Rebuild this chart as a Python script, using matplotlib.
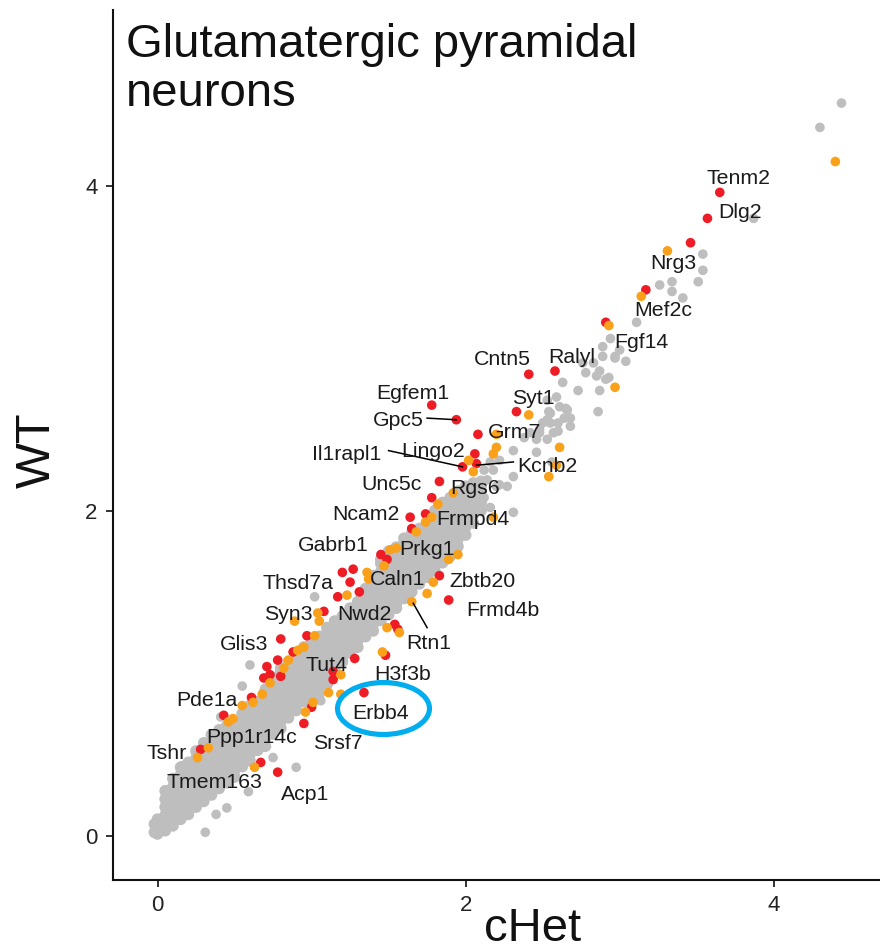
import matplotlib
matplotlib.use("Agg")
import matplotlib.pyplot as plt
from matplotlib.patches import Ellipse
import numpy as np

plt.rcParams['font.family'] = ['Liberation Sans', 'DejaVu Sans']

# ---- expression values (cHet, WT) ----
# dense cloud of unchanged genes, written as columns: cHet value -> WT values
band_low = [
    (-0.02, [0.02, 0.07]),
    (0.00, [0.01, 0.05, 0.10]),
    (0.05, [0.03, 0.075, 0.125, 0.175, 0.225, 0.275]),
    (0.10, [0.06, 0.10, 0.15, 0.20, 0.25, 0.30, 0.35]),
    (0.15, [0.10, 0.125, 0.175, 0.225, 0.275, 0.325, 0.375, 0.42]),
    (0.20, [0.13, 0.15, 0.20, 0.25, 0.30, 0.35, 0.40, 0.45]),
    (0.25, [0.175, 0.225, 0.275, 0.325, 0.375, 0.425, 0.475, 0.52]),
    (0.30, [0.21, 0.25, 0.30, 0.35, 0.40, 0.45, 0.50, 0.55, 0.57]),
    (0.35, [0.25, 0.275, 0.325, 0.375, 0.425, 0.475, 0.525, 0.575, 0.62]),
    (0.40, [0.29, 0.35, 0.40, 0.45, 0.50, 0.55, 0.60, 0.65]),
    (0.45, [0.325, 0.375, 0.425, 0.475, 0.525, 0.575, 0.625, 0.675]),
    (0.50, [0.36, 0.40, 0.45, 0.50, 0.55, 0.60, 0.65, 0.70]),
    (0.55, [0.425, 0.475, 0.525, 0.575, 0.625, 0.675, 0.725, 0.75]),
    (0.60, [0.46, 0.50, 0.55, 0.60, 0.65, 0.70, 0.75, 0.80]),
    (0.65, [0.525, 0.575, 0.625, 0.675, 0.725, 0.775, 0.825]),
    (0.70, [0.55, 0.60, 0.65, 0.70, 0.75, 0.80, 0.85, 0.90]),
]
band_mid = [
    (0.75, [0.625, 0.675, 0.725, 0.775, 0.825, 0.875, 0.925, 0.97]),
    (0.80, [0.66, 0.70, 0.75, 0.80, 0.85, 0.90, 0.95, 1.00, 1.03]),
    (0.85, [0.725, 0.775, 0.825, 0.875, 0.925, 0.975, 1.025, 1.07]),
    (0.90, [0.77, 0.80, 0.85, 0.90, 0.95, 1.00, 1.05, 1.10]),
    (0.95, [0.825, 0.875, 0.925, 0.975, 1.025, 1.075, 1.125, 1.16]),
    (1.00, [0.84, 0.90, 0.95, 1.00, 1.05, 1.10, 1.15, 1.20]),
    (1.05, [0.875, 0.925, 0.975, 1.025, 1.075, 1.125, 1.175, 1.225]),
    (1.10, [0.93, 1.00, 1.05, 1.10, 1.15, 1.20, 1.25, 1.28]),
    (1.15, [1.00, 1.025, 1.075, 1.125, 1.175, 1.225, 1.275, 1.32]),
    (1.20, [1.07, 1.10, 1.15, 1.20, 1.25, 1.30, 1.35]),
    (1.25, [1.125, 1.175, 1.225, 1.275, 1.325, 1.375, 1.40]),
    (1.30, [1.16, 1.20, 1.25, 1.30, 1.35, 1.40, 1.44]),
    (1.35, [1.225, 1.275, 1.325, 1.375, 1.425, 1.475, 1.52]),
    (1.40, [1.26, 1.30, 1.35, 1.40, 1.45, 1.50, 1.55, 1.60]),
]
band_high = [
    (1.45, [1.325, 1.375, 1.425, 1.475, 1.525, 1.575, 1.625, 1.675, 1.70]),
    (1.50, [1.36, 1.40, 1.45, 1.50, 1.55, 1.60, 1.65, 1.70, 1.75]),
    (1.55, [1.40, 1.425, 1.475, 1.525, 1.575, 1.625, 1.675, 1.725, 1.775]),
    (1.60, [1.46, 1.50, 1.55, 1.60, 1.65, 1.70, 1.75, 1.80, 1.83]),
    (1.65, [1.50, 1.525, 1.575, 1.625, 1.675, 1.725, 1.775, 1.825, 1.86]),
    (1.70, [1.55, 1.60, 1.65, 1.70, 1.75, 1.80, 1.85, 1.89]),
    (1.75, [1.59, 1.625, 1.675, 1.725, 1.775, 1.825, 1.875, 1.925]),
    (1.80, [1.63, 1.66, 1.70, 1.75, 1.80, 1.85, 1.90, 1.95, 2.00]),
    (1.85, [1.68, 1.725, 1.775, 1.825, 1.875, 1.925, 1.975, 2.025, 2.05]),
    (1.90, [1.72, 1.75, 1.80, 1.85, 1.90, 1.95, 2.00, 2.05, 2.08]),
    (1.95, [1.78, 1.825, 1.875, 1.925, 1.975, 2.025, 2.075, 2.12]),
    (2.00, [1.85, 1.90, 1.95, 2.00, 2.05, 2.10, 2.15]),
    (2.05, [1.925, 1.975, 2.025, 2.075, 2.125, 2.17]),
    (2.10, [2.00, 2.05, 2.10, 2.15, 2.18]),
]

# scattered unchanged genes away from the dense cloud
gray_sparse = [
    (4.44, 4.51), (4.30, 4.36), (3.87, 3.80), (3.54, 3.58), (3.54, 3.48),
    (3.51, 3.41), (3.34, 3.41), (3.26, 3.39), (3.34, 3.35), (3.41, 3.31),
    (3.11, 3.16), (2.94, 3.06), (2.89, 3.01), (2.89, 2.95), (2.97, 2.95),
    (3.04, 2.92), (3.00, 2.99), (2.76, 2.91), (2.83, 2.91), (2.78, 2.85),
    (2.85, 2.83), (2.87, 2.86), (2.93, 2.82), (2.91, 2.81), (2.87, 2.74),
    (2.73, 2.74), (2.63, 2.79), (2.86, 2.61), (2.65, 2.63), (2.68, 2.57),
    (2.55, 2.60), (2.60, 2.54), (2.53, 2.68), (2.59, 2.70), (2.61, 2.64),
    (2.53, 2.56), (2.48, 2.50), (2.46, 2.44), (2.38, 2.45), (2.31, 2.37),
    (2.22, 2.31), (2.16, 2.30), (2.18, 2.25), (2.31, 2.21), (2.09, 2.13),
    (2.20, 2.15), (2.27, 2.15), (2.54, 2.61), (2.66, 2.62), (2.55, 2.54),
    (2.64, 2.57), (2.68, 2.52), (2.60, 2.49), (2.48, 2.48), (2.53, 2.44),
    (2.42, 2.48), (2.46, 2.36), (2.56, 2.30), (2.12, 2.25), (2.31, 1.99),
    (2.50, 2.54), (2.57, 2.48), (2.97, 2.94), (2.14, 2.19), (2.22, 2.16),
    (2.16, 2.02), (2.12, 2.08),
    (0.60, 1.05), (0.55, 0.92), (0.41, 0.73), (0.16, 0.43), (1.02, 1.47),
    (0.75, 0.48), (0.90, 0.42), (0.59, 0.27), (0.45, 0.17), (0.38, 0.13),
    (0.31, 0.02), (1.06, 0.83),
]

# genes changed in cHet (two significance groups)
red_genes = [
    (3.65, 3.96), (3.57, 3.80), (3.46, 3.65), (3.17, 3.36), (2.91, 3.16),
    (2.58, 2.86), (2.41, 2.84), (1.78, 2.65), (1.94, 2.56), (2.33, 2.61),
    (2.08, 2.47), (2.06, 2.35), (1.98, 2.27), (2.07, 2.29), (1.83, 2.18),
    (1.78, 2.08), (1.74, 1.98), (1.64, 1.96), (1.65, 1.89), (1.45, 1.73),
    (1.49, 1.70), (1.20, 1.62), (1.27, 1.64), (1.25, 1.56), (1.83, 1.60),
    (1.31, 1.50), (1.17, 1.47), (1.89, 1.45), (1.08, 1.38), (0.97, 1.23),
    (0.80, 1.21), (0.88, 1.13), (1.54, 1.30), (1.56, 1.27), (1.48, 1.11),
    (1.28, 1.09), (1.14, 0.96), (1.14, 1.01), (0.78, 1.08), (0.71, 1.04),
    (0.69, 0.97), (0.73, 0.99), (0.80, 0.98), (0.61, 0.85), (0.43, 0.74),
    (1.34, 0.88), (1.00, 0.79), (0.95, 0.69), (0.28, 0.53), (0.67, 0.45),
    (0.78, 0.39),
]
orange_genes = [
    (4.40, 4.15), (3.31, 3.60), (3.14, 3.32), (2.93, 3.14), (2.97, 2.76),
    (2.41, 2.59), (2.20, 2.47), (2.20, 2.39), (2.18, 2.35), (2.02, 2.31),
    (2.05, 2.24), (2.61, 2.39), (2.59, 2.28), (2.54, 2.21), (1.92, 2.11),
    (1.82, 2.04), (1.68, 1.87), (1.74, 1.93), (1.78, 1.96), (2.18, 1.96),
    (1.51, 1.76), (1.55, 1.77), (1.47, 1.66), (1.89, 1.70), (1.95, 1.73),
    (1.36, 1.62), (1.37, 1.58), (1.79, 1.56), (1.75, 1.49), (1.23, 1.48),
    (1.65, 1.44), (1.04, 1.37), (1.05, 1.32), (0.89, 1.32), (1.02, 1.23),
    (0.95, 1.16), (0.91, 1.14), (1.49, 1.28), (1.57, 1.25), (1.46, 1.13),
    (0.85, 1.08), (0.82, 1.03), (0.73, 0.94), (1.19, 0.99), (1.11, 0.88),
    (1.19, 0.87), (0.62, 0.82), (0.55, 0.80), (0.68, 0.87), (0.46, 0.70),
    (0.49, 0.72), (1.01, 0.82), (0.96, 0.76), (0.33, 0.54), (0.26, 0.48),
    (0.63, 0.42),
]

# gene labels and their anchor positions (text baseline, centred)
label_names = [
    "Tenm2", "Dlg2", "Nrg3", "Mef2c", "Fgf14", "Cntn5", "Ralyl", "Egfem1",
    "Syt1", "Gpc5", "Grm7", "Il1rapl1", "Lingo2", "Kcnb2", "Unc5c", "Rgs6",
    "Ncam2", "Frmpd4", "Gabrb1", "Prkg1", "Thsd7a", "Caln1", "Zbtb20",
    "Syn3", "Nwd2", "Frmd4b", "Glis3", "Rtn1", "Tut4", "H3f3b", "Pde1a",
    "Erbb4", "Ppp1r14c", "Srsf7", "Tshr", "Tmem163", "Acp1",
]
label_pos = [
    (3.77, 4.01), (3.78, 3.80), (3.35, 3.49), (3.28, 3.20), (3.14, 3.00),
    (2.24, 2.90), (2.69, 2.91), (1.66, 2.69), (2.44, 2.66), (1.56, 2.52),
    (2.32, 2.45), (1.23, 2.31), (1.79, 2.33), (2.53, 2.24), (1.52, 2.13),
    (2.06, 2.10), (1.35, 1.94), (2.05, 1.91), (1.14, 1.75), (1.75, 1.73),
    (0.91, 1.52), (1.56, 1.54), (2.11, 1.53), (0.85, 1.33), (1.34, 1.33),
    (2.24, 1.35), (0.56, 1.14), (1.76, 1.15), (1.10, 1.01), (1.59, 0.96),
    (0.32, 0.80), (1.45, 0.72), (0.61, 0.57), (1.17, 0.53), (0.06, 0.47),
    (0.37, 0.29), (0.96, 0.22),
]
# connector segments from label to gene: (x0, y0, x1, y1)
connectors = [
    (1.75, 2.57, 1.94, 2.56),   # Gpc5
    (1.50, 2.37, 1.98, 2.27),   # Il1rapl1
    (2.31, 2.30, 2.07, 2.28),   # Kcnb2
    (1.66, 1.43, 1.75, 1.28),   # Rtn1
]
# highlighted gene (Erbb4): centre and extent of the outline
highlight = dict(center=(1.467, 0.782), width=0.597, height=0.320)


def flatten(columns):
    xs, ys = [], []
    for cx, wts in columns:
        xs.extend([cx] * len(wts))
        ys.extend(wts)
    return xs, ys


bx, by = [], []
for cols in (band_low, band_mid, band_high):
    x_, y_ = flatten(cols)
    bx += x_
    by += y_
sp = np.array(gray_sparse)
red = np.array(red_genes)
orng = np.array(orange_genes)

fig = plt.figure(figsize=(8.8, 9.52), dpi=100)
ax = fig.add_axes([113 / 880, 72 / 952, 767 / 880, 870 / 952])

size = 48
gray = '#BEBEBE'
ax.scatter(bx, by, s=72, color=gray, edgecolors='none', zorder=1)
ax.scatter(sp[:, 0], sp[:, 1], s=size, color=gray, edgecolors='none', zorder=1)
ax.scatter(red[:, 0], red[:, 1], s=size, color='#EE1C25', edgecolors='none', zorder=2)
ax.scatter(orng[:, 0], orng[:, 1], s=size, color='#F9A11B', edgecolors='none', zorder=3)

for x0, y0, x1, y1 in connectors:
    ax.plot([x0, x1], [y0, y1], color='black', lw=1.1, zorder=4)

for name, (lx, ly) in zip(label_names, label_pos):
    ax.text(lx, ly, name, ha='center', va='baseline', fontsize=15.3,
            color='#1a1a1a', zorder=5)

ax.add_patch(Ellipse(highlight['center'], highlight['width'], highlight['height'],
                     fill=False, edgecolor='#00AEEF', lw=3.7, zorder=6))

ax.set_xlim(-0.289, 4.69)
ax.set_ylim(-0.274, 5.083)
ax.set_xticks([0, 2, 4])
ax.set_yticks([0, 2, 4])
ax.set_xticklabels(['0', '2', '4'])
ax.set_yticklabels(['0', '2', '4'])
for side in ('top', 'right'):
    ax.spines[side].set_visible(False)
for side in ('left', 'bottom'):
    ax.spines[side].set_linewidth(1.5)
    ax.spines[side].set_color('#111111')
ax.tick_params(length=5, width=1.2, labelsize=16, pad=6, colors='#111111',
               labelcolor='#222222')

fig.text(533 / 880, 11 / 952, 'cHet', fontsize=34, ha='center', va='baseline',
         color='#111111')
fig.text(37 / 880, (952 - 450) / 952, 'WT', fontsize=35, rotation=90,
         ha='center', va='center', color='#111111')

fig.text(126 / 880, (952 - 57) / 952, 'Glutamatergic pyramidal', fontsize=34,
         ha='left', va='baseline', color='#111111')
fig.text(126 / 880, (952 - 106) / 952, 'neurons', fontsize=34,
         ha='left', va='baseline', color='#111111')

fig.savefig('out.png', dpi=100)
